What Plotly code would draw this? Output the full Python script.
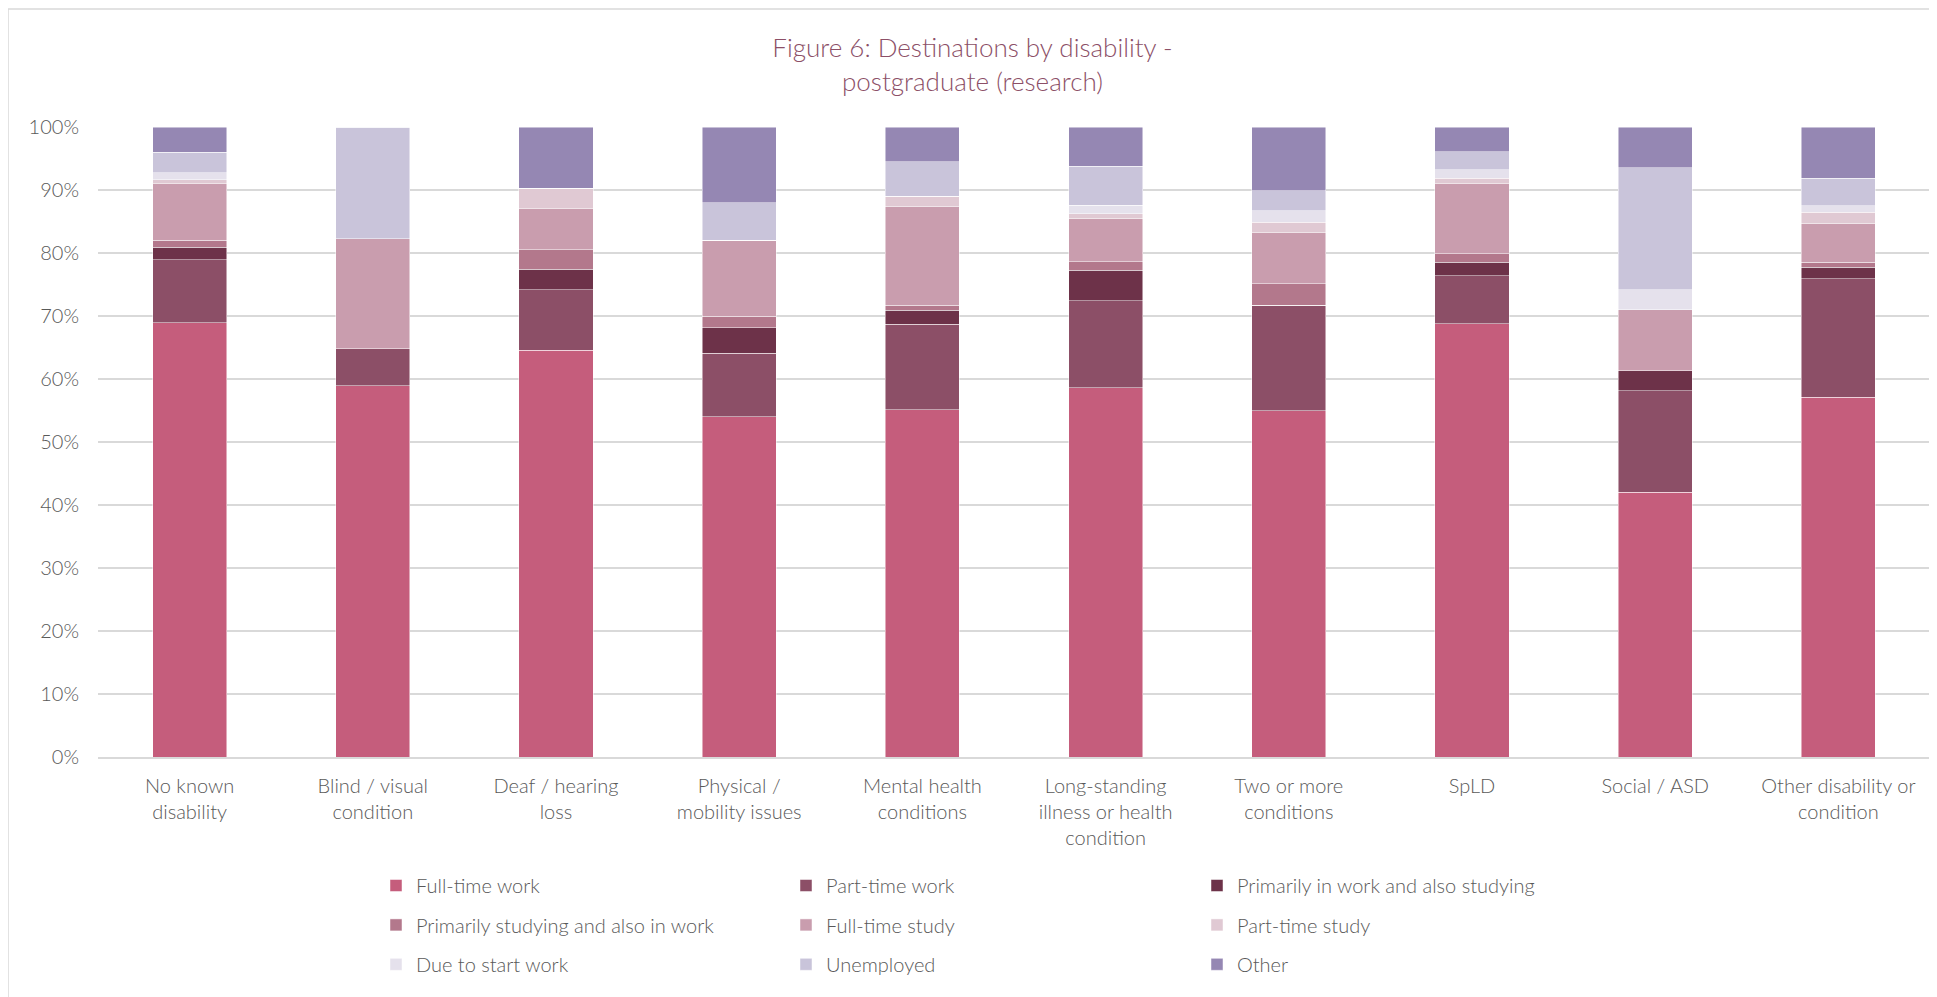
import plotly.graph_objects as go

categories = [
    "No known<br>disability",
    "Blind / visual<br>condition",
    "Deaf / hearing<br>loss",
    "Physical /<br>mobility issues",
    "Mental health<br>conditions",
    "Long-standing<br>illness or health<br>condition",
    "Two or more<br>conditions",
    "SpLD",
    "Social / ASD",
    "Other disability or<br>condition",
]

full_time_work = [68.9, 58.9, 64.6, 54.0, 55.1, 58.6, 55.0, 68.8, 42.0, 57.1]
part_time_work = [10.0, 5.9, 9.6, 10.1, 13.6, 13.8, 16.7, 7.6, 16.1, 18.8]
work_and_study = [2.0, 0.0, 3.2, 4.0, 2.2, 4.9, 0.0, 2.1, 3.2, 1.8]
study_and_work = [1.1, 0.0, 3.1, 1.9, 0.8, 1.3, 3.4, 1.4, 0.0, 0.8]
full_time_study = [9.0, 17.5, 6.5, 12.0, 15.7, 6.9, 8.1, 11.1, 9.7, 6.2]
part_time_study = [0.6, 0.0, 3.3, 0.0, 1.6, 0.7, 1.7, 0.9, 0.0, 1.8]
due_to_start = [1.1, 0.0, 0.0, 0.0, 0.0, 1.4, 1.8, 1.3, 3.2, 1.0]
unemployed = [3.3, 17.7, 0.0, 6.0, 5.5, 6.2, 3.2, 2.9, 19.3, 4.4]
other = [4.0, 0.0, 9.7, 12.0, 5.5, 6.2, 10.1, 3.9, 6.5, 8.1]

series_names = [
    "Full-time work", "Part-time work", "Primarily in work and also studying",
    "Primarily studying and also in work", "Full-time study", "Part-time study",
    "Due to start work", "Unemployed", "Other",
]
series_values = [
    full_time_work, part_time_work, work_and_study, study_and_work,
    full_time_study, part_time_study, due_to_start, unemployed, other,
]
series_colors = [
    "#c55d7c", "#8c4f67", "#6d3249", "#b3788c", "#c99dae",
    "#e0c9d3", "#e5e1ec", "#c9c4da", "#9587b3",
]
# legend column for each series (row-major layout of 3 columns)
legend_ids = ["legend", "legend2", "legend3"] * 3

y_ticks = list(range(0, 101, 10))
y_tick_text = [f"{v}%" for v in y_ticks]

FONT = "Lato, 'Open Sans', sans-serif"
TXT = "#595959"

fig = go.Figure()
for i, (name, vals, col) in enumerate(zip(series_names, series_values, series_colors)):
    fig.add_trace(go.Bar(
        x=categories, y=vals, name=name,
        marker=dict(color=col, line=dict(color="rgba(255,255,255,0.6)", width=0.8)),
        legend=legend_ids[i], legendgroup=name,
        hovertemplate="%{x}<br>" + name + ": %{y:.1f}%<extra></extra>",
    ))

# page body has an 8px margin, so the figure is offset by 8px
OFF = 8
W, H = 1937 - OFF, 997 - OFF
L, R, T, B = 98 - OFF, 7, 127 - OFF, 240
pw, ph = W - L - R, H - T - B

def px(x):
    return (x - OFF - L) / pw

def py(y):
    return (H - B - (y - OFF)) / ph

legend_common = dict(
    orientation="v", yanchor="top", xanchor="left",
    font=dict(family=FONT, size=20, color=TXT, weight=300),
    tracegroupgap=10.4, bgcolor="rgba(0,0,0,0)", itemwidth=30,
)

fig.update_layout(
    width=W, height=H,
    margin=dict(l=L, r=R, t=T, b=B),
    barmode="stack", bargap=0.596,
    plot_bgcolor="white", paper_bgcolor="white",
    font=dict(family=FONT, size=20, color=TXT, weight=300),
    title=dict(
        text="Figure 6: Destinations by disability -<br>postgraduate (research)",
        x=0.5, xanchor="center", y=1 - (57 - OFF) / H, yanchor="middle",
        font=dict(family=FONT, size=26, color="#8c4f67", weight=300),
    ),
    xaxis=dict(
        showgrid=False, ticks="", showline=True, linecolor="#d9d9d9", linewidth=1.5,
        tickfont=dict(family=FONT, size=20, color=TXT, weight=300), ticklabelstandoff=10,
    ),
    yaxis=dict(
        range=[0, 100], tickvals=y_ticks, ticktext=y_tick_text,
        showgrid=True, gridcolor="#d9d9d9", gridwidth=1.5, zeroline=False,
        showline=False, ticks="", ticklabelstandoff=18,
        tickfont=dict(family=FONT, size=20, color=TXT, weight=300),
    ),
    legend=dict(x=px(376), y=py(866), **legend_common),
    legend2=dict(x=px(786), y=py(866), **legend_common),
    legend3=dict(x=px(1197), y=py(866), **legend_common),
    shapes=[dict(
        type="rect", xref="paper", yref="paper",
        x0=px(8), x1=px(1937 + 20), y0=py(9), y1=py(997 + 20),
        line=dict(color="#d9d9d9", width=1.5), fillcolor="rgba(0,0,0,0)", layer="below",
    )],
)

fig.write_html("out.html")
